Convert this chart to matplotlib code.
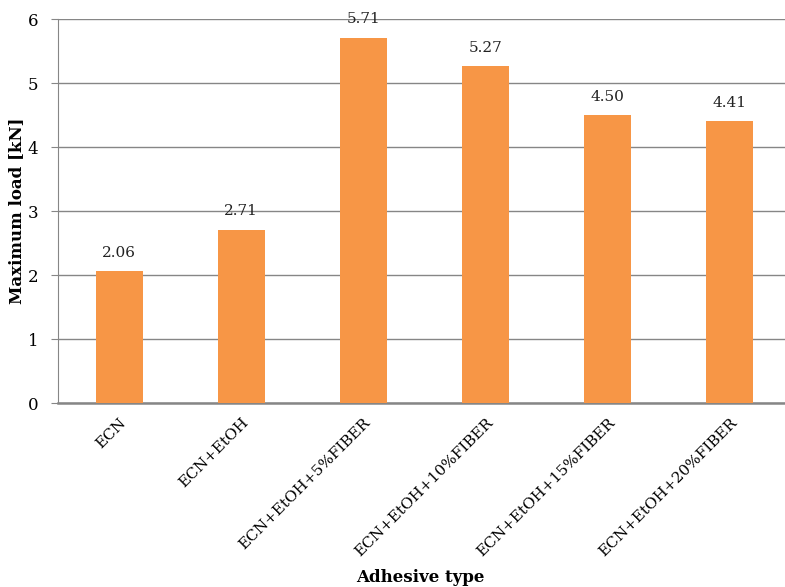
import matplotlib.pyplot as plt
import numpy as np

plt.rcParams['font.family'] = 'DejaVu Serif'

# Data
categories = ['ECN', 'ECN+EtOH', 'ECN+EtOH+5%FIBER', 'ECN+EtOH+10%FIBER',
              'ECN+EtOH+15%FIBER', 'ECN+EtOH+20%FIBER']
max_load = [2.06, 2.71, 5.71, 5.27, 4.50, 4.41]

bar_color = '#F79646'
grid_color = '#868686'

fig = plt.figure(figsize=(7.85, 5.87), dpi=100)
ax = fig.add_axes([58 / 785, 1 - 403 / 587, 733 / 785, 384 / 587])

x = np.arange(len(categories))
bars = ax.bar(x, max_load, width=0.385, color=bar_color, zorder=3)

for xi, v in zip(x, max_load):
    ax.annotate(f'{v:.2f}', (xi, v), xytext=(0, 8), textcoords='offset points',
                ha='center', va='bottom', fontsize=11, color='#222222')

ax.set_xlim(-0.5, len(categories) - 0.5)
ax.set_ylim(0, 6)
ax.set_yticks(range(0, 7))
ax.yaxis.grid(True, color=grid_color, linewidth=1, zorder=0)
ax.set_axisbelow(True)

ax.set_xticks(x)
ax.set_xticklabels(categories, rotation=45, ha='right', rotation_mode='anchor',
                   fontsize=11)
ax.tick_params(axis='x', length=0, pad=9)
ax.tick_params(axis='y', length=5, direction='out', color=grid_color,
               labelsize=12, pad=9)

for side in ['top', 'right']:
    ax.spines[side].set_visible(False)
ax.spines['left'].set_color(grid_color)
ax.spines['bottom'].set_color(grid_color)
ax.spines['bottom'].set_linewidth(1.8)

ax.set_ylabel('Maximum load [kN]', fontsize=12, fontweight='bold')
ax.yaxis.set_label_coords(-33 / 733, 0.5)
fig.text(0.535, 1 - 577 / 587, 'Adhesive type', ha='center', va='center',
         fontsize=12, fontweight='bold')

fig.savefig('out.png', dpi=100, facecolor='white')
